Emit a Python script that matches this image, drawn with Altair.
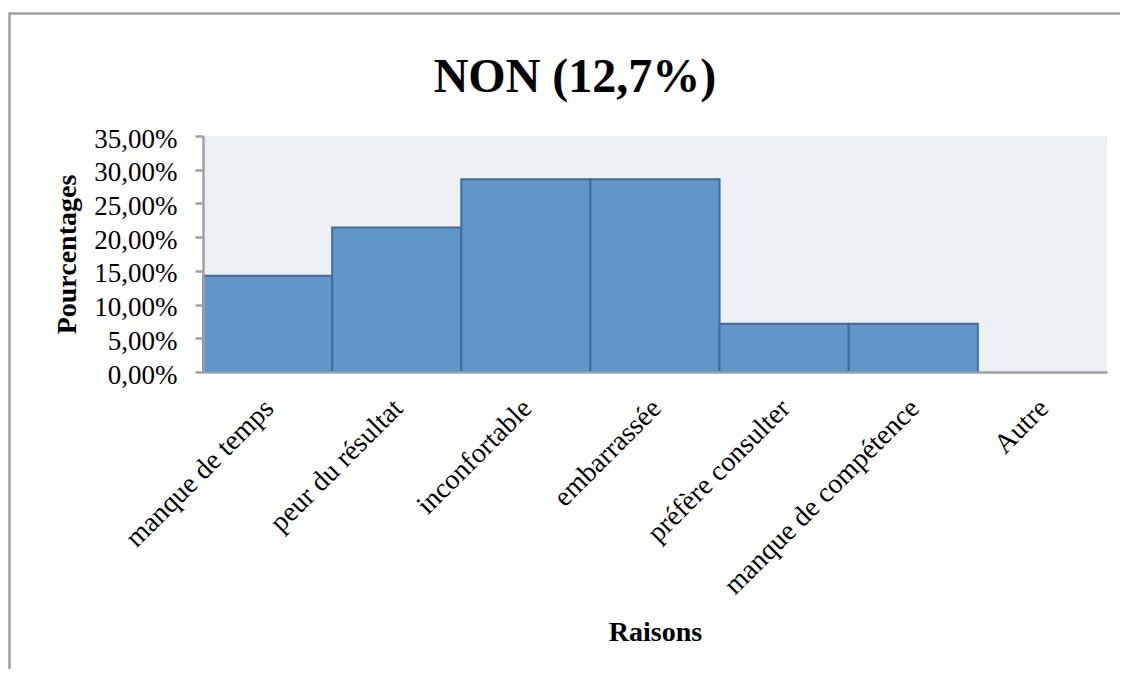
import altair as alt
import pandas as pd

categories = ["manque de temps", "peur du résultat", "inconfortable", "embarrassée",
              "préfère consulter", "manque de compétence", "Autre"]
values = [14.29, 21.43, 28.57, 28.57, 7.14, 7.14, 0.0]
y_ticks = [0, 5, 10, 15, 20, 25, 30, 35]
title_text = "NON (12,7%)"

df = pd.DataFrame({"Raisons": categories, "Pourcentages": values})

SERIF = "Liberation Serif"
GRAY = "#A0A0A0"

bars = alt.Chart(df).mark_bar(
    fill="#6096C8", stroke="#3F6E9E", strokeWidth=2
).encode(
    x=alt.X("Raisons:N", sort=categories,
            scale=alt.Scale(paddingInner=0, paddingOuter=0),
            axis=alt.Axis(title="Raisons", labelAngle=-45, labelAlign="right",
                          labelBaseline="top", labelPadding=22, labelOffset=-8,
                          ticks=False, zindex=1,
                          labelFont=SERIF, labelFontSize=28, labelColor="black",
                          domainColor=GRAY, domainWidth=2.5,
                          titleFont=SERIF, titleFontSize=28, titleFontWeight="bold",
                          titleColor="black", titleBaseline="alphabetic",
                          titleY=268, titleX=452, titleAlign="center",
                          labelLimit=400)),
    y=alt.Y("Pourcentages:Q",
            scale=alt.Scale(domain=[0, 35], nice=False),
            axis=alt.Axis(title="Pourcentages", values=y_ticks, grid=False,
                          labelExpr="replace(format(datum.value, '.2f'), '.', ',') + '%'",
                          labelFont=SERIF, labelFontSize=27, labelColor="black",
                          labelPadding=18, labelOffset=3, zindex=1,
                          tickColor=GRAY, tickWidth=2.5, tickSize=8,
                          domainColor=GRAY, domainWidth=2.5,
                          titleFont=SERIF, titleFontSize=28, titleFontWeight="bold",
                          titleColor="black", titleAngle=-90, titleBaseline="alphabetic",
                          titleX=-128, titleY=118, titleAlign="center")),
    strokeOpacity=alt.condition(alt.datum.Pourcentages > 0, alt.value(1), alt.value(0)),
)

border = alt.Chart(alt.Data(values=[{}])).mark_rect(
    filled=False, stroke=GRAY, strokeWidth=2.5
).encode(
    x=alt.value(-193.5), x2=alt.value(1000),
    y=alt.value(-122.5), y2=alt.value(800),
)

title = alt.Chart(alt.Data(values=[{}])).mark_text(
    font=SERIF, fontSize=48, fontWeight="bold", color="black",
    align="center", baseline="alphabetic"
).encode(
    x=alt.value(372), y=alt.value(-44), text=alt.value(title_text)
)

chart = alt.layer(border, bars, title).properties(
    width=904, height=236,
    autosize=alt.AutoSizeParams(type="none"),
    padding={"left": 195, "top": 128, "right": 13, "bottom": 297},
).configure_view(fill="#ECEFF4", stroke=None)

chart.save("out.html", embed_options={"renderer": "svg", "actions": False})
